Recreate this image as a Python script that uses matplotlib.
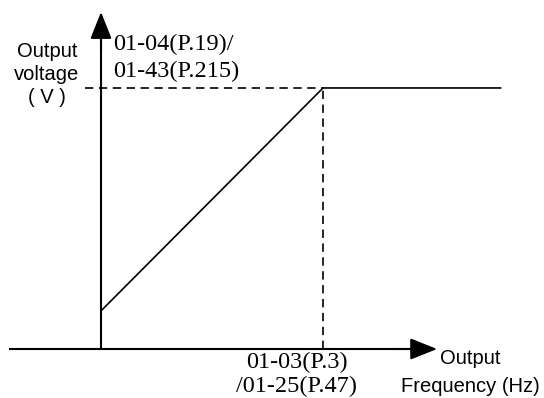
import matplotlib
matplotlib.use("Agg")
import matplotlib.pyplot as plt

plt.rcParams['lines.scale_dashes'] = False

# V/F curve points (frequency in Hz, voltage in %)
freq_pts = [0, 50, 90]
volt_pts = [14.6, 100, 100]
f_base = 50
v_max = 100

# axis extents
x_axis_start = -20.5
x_axis_end = 75.7
y_axis_end = 129.1
dash_start = -3.6

fig = plt.figure(figsize=(5.44, 3.98), dpi=100)
ax = fig.add_axes([0, 0, 1, 1])
ax.set_xlim(-22.75, 99.77)
ax.set_ylim(-18.77, 133.7)
ax.axis('off')

# axes with arrows
ax.plot([x_axis_start, x_axis_end - 3], [0, 0], color='black', lw=1.5)
ax.plot([0, 0], [0, y_axis_end - 5], color='black', lw=1.5)
arrow = dict(arrowstyle='-|>,head_length=0.83,head_width=0.33',
             color='black', lw=1.5, mutation_scale=20, shrinkA=0, shrinkB=0)
ax.annotate('', xy=(x_axis_end, 0), xytext=(x_axis_end - 10, 0), arrowprops=arrow)
ax.annotate('', xy=(0, y_axis_end), xytext=(0, y_axis_end - 15), arrowprops=arrow)

# V/F line
ax.plot(freq_pts, volt_pts, color='black', lw=1.2)

# dashed guides
ax.plot([dash_start, f_base], [v_max, v_max], color='black', lw=1.2, linestyle=(0, (6, 4)))
ax.plot([f_base, f_base], [0, v_max], color='black', lw=1.2, linestyle=(0, (6, 4)))

# labels
sans = 'Liberation Sans'
serif = 'Liberation Serif'
ax.text(-12.2, 105.0, 'Output\nvoltage\n( V )', family=sans, fontsize=14.5,
        ha='center', va='center', linespacing=1.27)
ax.text(2.7, 111.5, '01-04(P.19)/\n01-43(P.215)', family=serif, fontsize=17.5,
        ha='left', va='center', linespacing=1.32)
ax.text(44.1, -9.8, '01-03(P.3)\n/01-25(P.47)', family=serif, fontsize=17.5,
        ha='center', va='center', linespacing=1.15)
ax.text(76.4, -3.6, 'Output', family=sans, fontsize=14.5, ha='left', va='center')
ax.text(83.3, -14.2, 'Frequency (Hz)', family=sans, fontsize=14.5, ha='center', va='center')

fig.savefig('out.png', dpi=100)
